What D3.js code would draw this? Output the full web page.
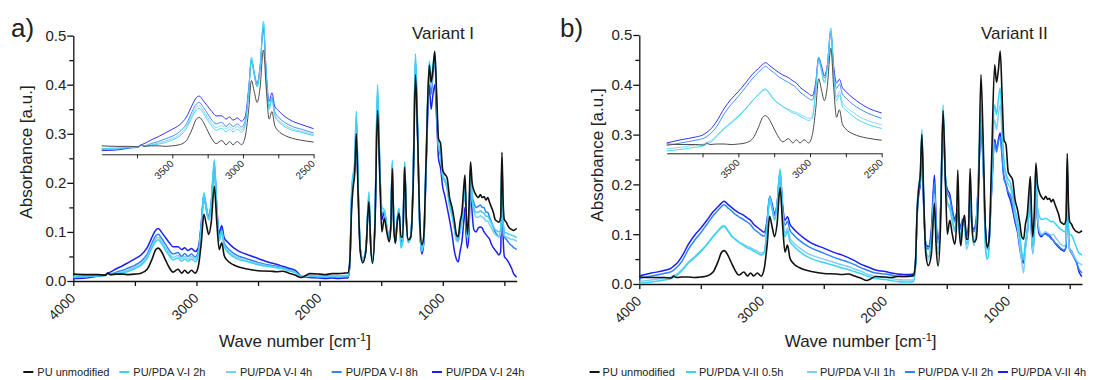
<!DOCTYPE html>
<html><head><meta charset="utf-8">
<script src="https://cdn.jsdelivr.net/npm/d3@7"></script>
<style>
body{margin:0;background:#fff}
svg{display:block}
text{font-family:"Liberation Sans",Arial,Helvetica,sans-serif;fill:#222}
</style>
</head><body>
<svg id="chart" width="1102" height="380"></svg>
<script>
// ---------- DATA ----------
const wavenumbers = [4000,3900,3800,3740,3720,3700,3650,3600,3550,3500,
3450,3400,3360,3330,3310,3280,3250,3220,3190,3150,
3120,3095,3070,3040,3010,2985,2960,2940,2920,2900,
2880,2855,2835,2815,2795,2775,2750,2700,2650,2600,
2500,2400,2350,2300,2250,2200,2150,2120,2080,2000,
1950,1900,1850,1800,1770,1755,1740,1728,1715,1702,
1688,1670,1650,1625,1600,1585,1570,1550,1530,1510,
1495,1475,1455,1435,1422,1410,1398,1385,1370,1355,
1340,1325,1310,1295,1280,1260,1240,1222,1205,1185,
1170,1155,1135,1110,1095,1080,1065,1050,1035,1018,
1000,985,965,945,925,905,890,875,860,845,
830,820,810,800,787,775,762,748,730,712,
695,680,665,650,635,620,605,590,575,560,
545,530,520,510,500,485,470,455,440,425,
410,400];

const puUnmodified = [0.014,0.013,0.013,0.012,0.016,0.013,0.014,0.014,0.013,0.014,
0.016,0.024,0.045,0.064,0.067,0.058,0.042,0.027,0.018,0.024,
0.016,0.022,0.016,0.022,0.016,0.030,0.080,0.136,0.115,0.095,
0.120,0.193,0.120,0.064,0.078,0.052,0.042,0.033,0.028,0.025,
0.021,0.020,0.019,0.020,0.016,0.012,0.007,0.010,0.015,0.014,
0.013,0.015,0.015,0.016,0.017,0.040,0.150,0.190,0.220,0.300,
0.180,0.060,0.037,0.060,0.162,0.070,0.036,0.120,0.348,0.200,
0.100,0.128,0.100,0.080,0.110,0.229,0.110,0.077,0.120,0.138,
0.090,0.090,0.232,0.120,0.084,0.090,0.200,0.420,0.300,0.110,
0.074,0.090,0.250,0.440,0.405,0.430,0.468,0.380,0.290,0.280,
0.225,0.218,0.210,0.170,0.150,0.121,0.095,0.090,0.120,0.140,
0.190,0.216,0.140,0.095,0.150,0.243,0.200,0.185,0.175,0.170,
0.176,0.170,0.172,0.165,0.170,0.160,0.150,0.140,0.125,0.122,
0.120,0.130,0.262,0.160,0.125,0.120,0.112,0.107,0.105,0.103,
0.105,0.107];

const variantI_2h = [0.009,0.010,0.011,0.012,0.015,0.013,0.015,0.017,0.020,0.025,
0.032,0.046,0.068,0.081,0.084,0.075,0.062,0.051,0.043,0.047,
0.040,0.045,0.040,0.045,0.039,0.052,0.110,0.180,0.150,0.125,
0.158,0.247,0.145,0.082,0.100,0.070,0.060,0.049,0.043,0.040,
0.033,0.029,0.027,0.025,0.021,0.017,0.010,0.010,0.011,0.010,
0.010,0.010,0.010,0.011,0.011,0.040,0.190,0.218,0.245,0.346,
0.205,0.068,0.045,0.066,0.182,0.078,0.040,0.135,0.400,0.222,
0.150,0.145,0.112,0.082,0.120,0.246,0.118,0.076,0.128,0.148,
0.067,0.080,0.243,0.123,0.078,0.093,0.222,0.463,0.315,0.095,
0.063,0.085,0.255,0.448,0.410,0.440,0.465,0.370,0.280,0.265,
0.215,0.208,0.192,0.153,0.133,0.108,0.088,0.086,0.108,0.125,
0.170,0.200,0.125,0.090,0.130,0.228,0.170,0.150,0.140,0.140,
0.143,0.140,0.138,0.132,0.132,0.125,0.118,0.110,0.105,0.102,
0.100,0.105,0.250,0.125,0.100,0.098,0.096,0.095,0.093,0.092,
0.090,0.088];

const variantI_4h = [0.008,0.009,0.011,0.012,0.015,0.014,0.016,0.019,0.023,0.028,
0.035,0.050,0.072,0.086,0.089,0.080,0.067,0.056,0.048,0.052,
0.045,0.050,0.045,0.050,0.044,0.055,0.112,0.175,0.148,0.125,
0.155,0.242,0.145,0.085,0.102,0.073,0.063,0.052,0.046,0.042,
0.035,0.030,0.028,0.026,0.022,0.018,0.009,0.009,0.010,0.009,
0.009,0.010,0.009,0.010,0.010,0.035,0.175,0.212,0.238,0.335,
0.198,0.066,0.043,0.063,0.175,0.075,0.039,0.130,0.390,0.218,
0.140,0.143,0.110,0.082,0.117,0.242,0.117,0.077,0.126,0.146,
0.070,0.082,0.241,0.122,0.079,0.092,0.218,0.455,0.312,0.096,
0.062,0.082,0.250,0.440,0.395,0.430,0.458,0.365,0.275,0.260,
0.212,0.205,0.188,0.155,0.135,0.105,0.082,0.080,0.100,0.118,
0.165,0.196,0.120,0.085,0.125,0.225,0.165,0.145,0.130,0.130,
0.133,0.130,0.128,0.122,0.122,0.115,0.108,0.100,0.095,0.092,
0.090,0.098,0.245,0.118,0.092,0.090,0.088,0.086,0.085,0.084,
0.083,0.080];

const variantI_8h = [0.007,0.008,0.010,0.011,0.015,0.014,0.018,0.022,0.027,0.032,
0.040,0.055,0.078,0.092,0.095,0.086,0.074,0.062,0.055,0.058,
0.050,0.056,0.050,0.055,0.049,0.060,0.115,0.172,0.145,0.125,
0.155,0.238,0.145,0.088,0.105,0.078,0.068,0.057,0.050,0.046,
0.038,0.032,0.030,0.027,0.023,0.019,0.009,0.008,0.009,0.008,
0.008,0.008,0.008,0.009,0.009,0.035,0.170,0.210,0.235,0.330,
0.195,0.066,0.044,0.064,0.170,0.074,0.040,0.128,0.385,0.215,
0.135,0.142,0.110,0.084,0.116,0.240,0.116,0.078,0.125,0.145,
0.072,0.084,0.240,0.122,0.080,0.092,0.215,0.450,0.310,0.098,
0.060,0.080,0.245,0.430,0.380,0.420,0.450,0.360,0.270,0.255,
0.210,0.205,0.190,0.160,0.140,0.110,0.085,0.082,0.105,0.125,
0.170,0.200,0.125,0.088,0.130,0.230,0.175,0.160,0.150,0.152,
0.155,0.150,0.150,0.140,0.140,0.130,0.120,0.110,0.100,0.095,
0.090,0.100,0.250,0.120,0.090,0.085,0.080,0.075,0.072,0.068,
0.066,0.064];

const variantI_24h = [0.005,0.006,0.010,0.013,0.016,0.018,0.025,0.031,0.038,0.045,
0.053,0.068,0.090,0.104,0.107,0.098,0.088,0.078,0.070,0.070,
0.064,0.068,0.062,0.066,0.060,0.068,0.120,0.175,0.150,0.130,
0.160,0.232,0.150,0.097,0.113,0.088,0.080,0.068,0.060,0.055,
0.046,0.037,0.034,0.030,0.026,0.022,0.010,0.008,0.007,0.006,
0.005,0.006,0.005,0.006,0.006,0.030,0.160,0.205,0.230,0.320,
0.190,0.065,0.042,0.062,0.165,0.072,0.040,0.125,0.370,0.210,
0.125,0.140,0.110,0.085,0.115,0.235,0.115,0.080,0.120,0.140,
0.080,0.085,0.235,0.120,0.080,0.090,0.210,0.440,0.300,0.100,
0.055,0.075,0.230,0.400,0.350,0.380,0.400,0.330,0.250,0.230,
0.190,0.175,0.150,0.124,0.095,0.060,0.045,0.039,0.060,0.080,
0.120,0.150,0.090,0.067,0.100,0.200,0.140,0.105,0.100,0.108,
0.110,0.108,0.100,0.095,0.090,0.085,0.075,0.068,0.063,0.058,
0.053,0.060,0.220,0.090,0.050,0.045,0.040,0.033,0.025,0.015,
0.010,0.008];

const variantII_05h = [0.001,0.004,0.008,0.011,0.014,0.016,0.028,0.042,0.053,0.065,
0.079,0.095,0.107,0.115,0.117,0.108,0.097,0.090,0.084,0.077,
0.072,0.070,0.066,0.062,0.058,0.062,0.115,0.176,0.152,0.128,
0.158,0.231,0.142,0.095,0.106,0.085,0.078,0.066,0.057,0.051,
0.043,0.036,0.032,0.029,0.025,0.021,0.016,0.014,0.011,0.009,
0.007,0.005,0.004,0.004,0.005,0.030,0.160,0.200,0.220,0.310,
0.180,0.070,0.055,0.085,0.160,0.085,0.070,0.145,0.360,0.210,
0.165,0.155,0.130,0.110,0.125,0.150,0.110,0.095,0.125,0.120,
0.080,0.090,0.190,0.115,0.085,0.110,0.240,0.333,0.280,0.070,
0.050,0.080,0.220,0.360,0.340,0.370,0.394,0.320,0.250,0.222,
0.210,0.205,0.185,0.150,0.129,0.095,0.065,0.050,0.085,0.110,
0.165,0.195,0.115,0.075,0.120,0.215,0.155,0.137,0.130,0.130,
0.132,0.130,0.128,0.125,0.126,0.122,0.118,0.114,0.110,0.108,
0.105,0.110,0.245,0.115,0.100,0.098,0.090,0.080,0.070,0.062,
0.060,0.058];

const variantII_1h = [0.005,0.008,0.012,0.014,0.017,0.019,0.030,0.044,0.055,0.067,
0.080,0.096,0.106,0.113,0.115,0.106,0.096,0.090,0.084,0.079,
0.075,0.073,0.069,0.066,0.062,0.065,0.115,0.169,0.150,0.130,
0.155,0.226,0.145,0.102,0.112,0.092,0.084,0.073,0.064,0.058,
0.050,0.042,0.038,0.035,0.030,0.026,0.020,0.018,0.015,0.013,
0.011,0.009,0.008,0.008,0.008,0.030,0.150,0.190,0.210,0.300,
0.170,0.065,0.050,0.080,0.180,0.090,0.060,0.140,0.350,0.200,
0.160,0.150,0.125,0.105,0.120,0.145,0.105,0.090,0.120,0.115,
0.070,0.080,0.180,0.110,0.077,0.100,0.230,0.360,0.270,0.080,
0.050,0.075,0.200,0.330,0.310,0.340,0.360,0.300,0.240,0.215,
0.200,0.195,0.175,0.140,0.115,0.075,0.045,0.022,0.070,0.100,
0.150,0.180,0.100,0.060,0.110,0.210,0.140,0.110,0.100,0.102,
0.105,0.102,0.100,0.098,0.100,0.095,0.090,0.085,0.080,0.078,
0.076,0.085,0.240,0.095,0.070,0.065,0.058,0.052,0.046,0.042,
0.040,0.038];

const variantII_2h = [0.011,0.016,0.021,0.025,0.028,0.032,0.047,0.070,0.088,0.103,
0.120,0.137,0.148,0.156,0.159,0.153,0.147,0.140,0.135,0.129,
0.124,0.119,0.111,0.105,0.099,0.096,0.125,0.172,0.155,0.138,
0.158,0.225,0.152,0.118,0.126,0.108,0.100,0.088,0.079,0.072,
0.062,0.052,0.048,0.044,0.039,0.033,0.028,0.025,0.022,0.020,
0.018,0.016,0.015,0.015,0.016,0.038,0.145,0.185,0.205,0.290,
0.165,0.078,0.070,0.100,0.205,0.110,0.082,0.145,0.335,0.205,
0.182,0.172,0.145,0.125,0.135,0.148,0.120,0.110,0.128,0.122,
0.095,0.105,0.175,0.118,0.105,0.125,0.215,0.315,0.245,0.105,
0.070,0.090,0.185,0.285,0.265,0.285,0.295,0.255,0.212,0.200,
0.185,0.180,0.160,0.130,0.110,0.080,0.060,0.050,0.080,0.105,
0.155,0.175,0.105,0.068,0.115,0.205,0.135,0.105,0.098,0.100,
0.100,0.097,0.095,0.090,0.088,0.083,0.080,0.076,0.072,0.070,
0.068,0.075,0.235,0.100,0.068,0.062,0.055,0.048,0.040,0.030,
0.025,0.022];

const variantII_4h = [0.016,0.022,0.027,0.032,0.036,0.040,0.057,0.080,0.098,0.112,
0.128,0.145,0.155,0.163,0.166,0.160,0.154,0.148,0.143,0.138,
0.132,0.128,0.120,0.114,0.108,0.104,0.130,0.176,0.160,0.142,
0.160,0.222,0.160,0.128,0.135,0.120,0.112,0.100,0.090,0.082,
0.072,0.062,0.058,0.053,0.047,0.040,0.035,0.032,0.028,0.025,
0.022,0.020,0.019,0.019,0.020,0.040,0.140,0.180,0.200,0.280,
0.160,0.080,0.075,0.110,0.219,0.120,0.090,0.150,0.330,0.210,
0.190,0.180,0.150,0.130,0.140,0.150,0.125,0.115,0.130,0.125,
0.100,0.110,0.170,0.120,0.110,0.130,0.220,0.320,0.250,0.110,
0.075,0.095,0.190,0.290,0.270,0.290,0.303,0.260,0.215,0.200,
0.180,0.170,0.150,0.125,0.105,0.070,0.050,0.042,0.075,0.100,
0.150,0.170,0.100,0.062,0.110,0.200,0.130,0.100,0.095,0.100,
0.102,0.100,0.098,0.092,0.088,0.082,0.078,0.074,0.070,0.068,
0.066,0.075,0.230,0.100,0.070,0.066,0.058,0.050,0.040,0.025,
0.018,0.015];

const legendNamesI = ["PU unmodified","PU/PDA V-I 2h","PU/PDA V-I 4h","PU/PDA V-I 8h","PU/PDA V-I 24h"];
const legendNamesII = ["PU unmodified","PU/PDA V-II 0.5h","PU/PDA V-II 1h","PU/PDA V-II 2h","PU/PDA V-II 4h"];
const yMajorTicks = [0,0.1,0.2,0.3,0.4,0.5];
const yMinorTicks = [0.05,0.15,0.25,0.35,0.45];
const xMajorTicks = [4000,3000,2000,1000];
const xMinorTicks = [3500,2500,1500,500];
const insetMajorTicks = [3500,3000,2500];
const insetMinorTicks = [3750,3250,2750];

// ---------- LAYOUT ----------
const colors = ["#111111","#3ad3f3","#82cdf7","#2d85f7","#1c20ef"];
const panels = [
  {label:"a)", variant:"Variant I", names:legendNamesI,
   series:[puUnmodified,variantI_2h,variantI_4h,variantI_8h,variantI_24h],
   x0:73.3, x1:516.7, yBase:281, yTop:35.6,
   ins:{x0:101.7, x1:313.6, yZero:153.3, axisY:154.3},
   labelX:11, varX:412, yLabX:32, yLabY:152,
   legendX:[23.3,119.3,226,331.7,432], legendGap:14},
  {label:"b)", variant:"Variant II", names:legendNamesII,
   series:[puUnmodified,variantII_05h,variantII_1h,variantII_2h,variantII_4h],
   x0:639.3, x1:1082, yBase:284, yTop:35,
   ins:{x0:666.7, x1:881.7, yZero:151.5, axisY:153.3},
   labelX:560, varX:981, yLabX:603, yLabY:155,
   legendX:[589.6,686,807,905,998], legendGap:13}
];

const svg = d3.select("#chart");

panels.forEach(p => {
  const g = svg.append("g");
  const x = d3.scaleLinear().domain([4000,400]).range([p.x0,p.x1]);
  const y = d3.scaleLinear().domain([0,0.5]).range([p.yBase,p.yTop]);

  // y axis
  const ya = g.append("g").attr("transform",`translate(${p.x0},0)`)
    .call(d3.axisLeft(y).tickValues(yMajorTicks).tickFormat(d3.format(".1f")).tickSize(6).tickPadding(1).tickSizeOuter(0));
  ya.selectAll("text").style("font-size","15px").attr("fill","#222");
  g.append("g").attr("transform",`translate(${p.x0},0)`)
    .call(d3.axisLeft(y).tickValues(yMinorTicks).tickFormat("").tickSize(4).tickSizeOuter(0))
    .select(".domain").remove();

  // x axis
  const xa = g.append("g").attr("transform",`translate(0,${p.yBase})`)
    .call(d3.axisBottom(x).tickValues(xMajorTicks).tickFormat(d3.format("d")).tickSize(5).tickSizeOuter(0));
  xa.selectAll("text").style("font-size","14px").attr("fill","#222")
    .attr("text-anchor","end").attr("x",2.5).attr("y",18).attr("dy",0)
    .attr("transform","rotate(-45,2.5,18)");
  g.append("g").attr("transform",`translate(0,${p.yBase})`)
    .call(d3.axisBottom(x).tickValues(xMinorTicks).tickFormat("").tickSize(5).tickSizeOuter(0))
    .select(".domain").remove();
  g.selectAll(".domain, .tick line").attr("stroke","#111").attr("stroke-width",1.3);

  // main curves
  const line = d3.line().x(d=>x(d[0])).y(d=>y(d[1])).curve(d3.curveMonotoneX);
  [4,3,2,1,0].forEach(i => {
    const pts = wavenumbers.map((w,k)=>[w,p.series[i][k]]);
    g.append("path").attr("d",line(pts)).attr("fill","none")
      .attr("stroke",colors[i]).attr("stroke-width", i===0?1.6:1.5)
      .attr("stroke-linejoin","round");
  });

  // inset
  const ix = d3.scaleLinear().domain([4000,2500]).range([p.ins.x0,p.ins.x1]);
  const iy = d3.scaleLinear().domain([0,0.25]).range([p.ins.yZero,p.ins.yZero-0.25*535]);
  const iline = d3.line().x(d=>ix(d[0])).y(d=>iy(d[1])).curve(d3.curveMonotoneX);
  [4,3,2,1,0].forEach(i => {
    const pts = wavenumbers.map((w,k)=>[w,p.series[i][k]]).filter(d=>d[0]>=2500);
    g.append("path").attr("d",iline(pts)).attr("fill","none")
      .attr("stroke", i===0?"#4a4a4a":colors[i]).attr("stroke-width",1)
      .attr("opacity", i===0?1:0.9);
  });
  const ia = g.append("g").attr("transform",`translate(0,${p.ins.axisY})`)
    .call(d3.axisBottom(ix).tickValues(insetMajorTicks).tickFormat(d3.format("d")).tickSize(4).tickSizeOuter(0));
  ia.selectAll("text").style("font-size","10px").attr("fill","#222")
    .attr("text-anchor","end").attr("x",1.5).attr("y",10).attr("dy",0)
    .attr("transform","rotate(-45,1.5,10)");
  const im = g.append("g").attr("transform",`translate(0,${p.ins.axisY})`)
    .call(d3.axisBottom(ix).tickValues(insetMinorTicks).tickFormat("").tickSize(4).tickSizeOuter(0));
  im.select(".domain").remove();
  ia.selectAll(".domain, .tick line").attr("stroke","#222").attr("stroke-width",1);
  im.selectAll(".tick line").attr("stroke","#222").attr("stroke-width",1);

  // texts
  g.append("text").attr("x",p.labelX).attr("y",37).style("font-size","26px").text(p.label);
  g.append("text").attr("x",p.varX).attr("y",39).style("font-size","17px").text(p.variant);
  g.append("text").attr("transform",`translate(${p.yLabX},${p.yLabY}) rotate(-90)`)
    .attr("text-anchor","middle").style("font-size","17px").text("Absorbance [a.u.]");
  const xt = g.append("text").attr("x",(p.x0+p.x1)/2).attr("y",347)
    .attr("text-anchor","middle").style("font-size","17px");
  xt.append("tspan").text("Wave number [cm");
  xt.append("tspan").attr("dy",-6).style("font-size","11px").text("-1");
  xt.append("tspan").attr("dy",6).text("]");

  // legend
  p.names.forEach((n,i) => {
    const lx = p.legendX[i];
    g.append("line").attr("x1",lx).attr("x2",lx+10).attr("y1",372).attr("y2",372)
      .attr("stroke",colors[i]).attr("stroke-width",2);
    g.append("text").attr("x",lx+p.legendGap).attr("y",376).style("font-size","11px").text(n);
  });
});
</script>
</body></html>
